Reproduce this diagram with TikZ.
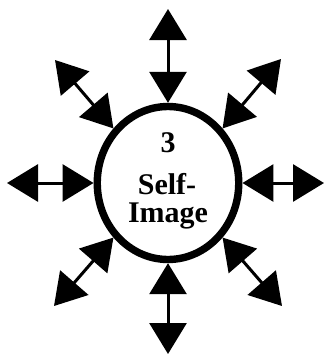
\documentclass[tikz,border=0pt]{standalone}
\usepackage{fontspec}
\setmainfont{Liberation Serif}
\usepackage{tikz}
\usetikzlibrary{arrows.meta, shapes.geometric}

\tikzset{
  ring/.style={draw, ellipse, line width=7.4pt, minimum width=141.5pt, minimum height=153pt, inner sep=0pt},
  spoke/.style={{Triangle[length=31pt, width=37pt]}-{Triangle[length=31pt, width=37pt]}, line width=3pt},
  word/.style={font=\bfseries\fontsize{30}{30}\selectfont, anchor=base, inner sep=0pt}
}

\begin{document}
\begin{tikzpicture}[x=1pt, y=-1pt]
  \useasboundingbox (0,0) rectangle (326,356);

  % Centre ring
  \node[ring] (self) at (168,183) {};

  % Text in the ring
  \node[word] (num) at (168,152) {3};
  \node[word] (top) at (167,194) {Self-};
  \node[word] (bot) at (168,222) {Image};

  % Free ends of the spokes
  \coordinate (n)  at (168,9);
  \coordinate (s)  at (168,354);
  \coordinate (w)  at (7,183);
  \coordinate (e)  at (324,183);
  \coordinate (nw) at (55,60);
  \coordinate (ne) at (281,59);
  \coordinate (sw) at (54,306);
  \coordinate (se) at (282,306);

  % Spokes
  \draw[spoke] (self.90)  -- (n);
  \draw[spoke] (self.270) -- (s);
  \draw[spoke] (self.180) -- (w);
  \draw[spoke] (self.0)   -- (e);
  \draw[spoke] (self.135) -- (nw);
  \draw[spoke] (self.45)  -- (ne);
  \draw[spoke] (self.225) -- (sw);
  \draw[spoke] (self.315) -- (se);

\end{tikzpicture}
\end{document}
